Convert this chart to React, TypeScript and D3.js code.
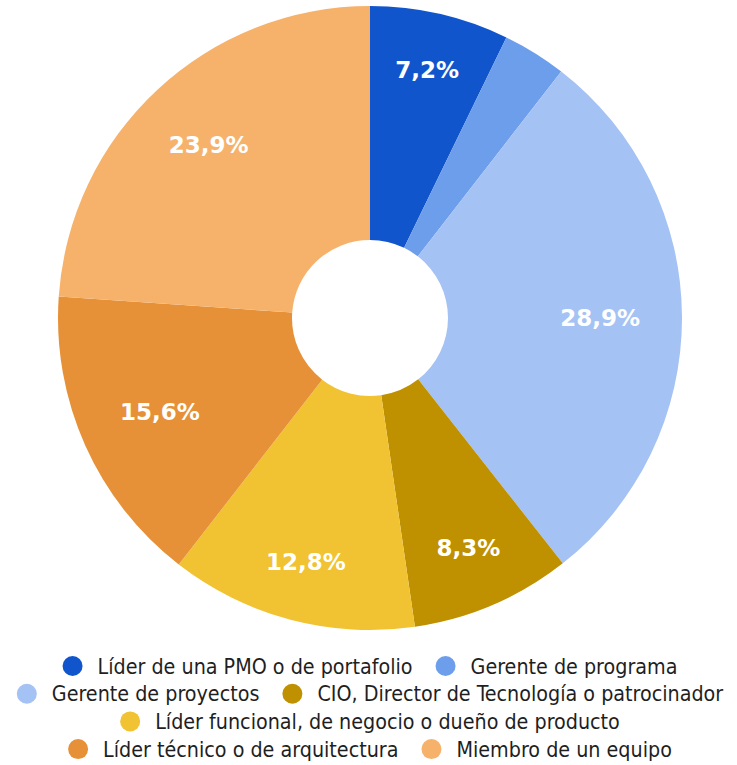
import React from "react";
import * as d3 from "d3";

const categories = [
  "Líder de una PMO o de portafolio",
  "Gerente de programa",
  "Gerente de proyectos",
  "CIO, Director de Tecnología o patrocinador",
  "Líder funcional, de negocio o dueño de producto",
  "Líder técnico o de arquitectura",
  "Miembro de un equipo",
];
const values = [7.2, 3.3, 28.9, 8.3, 12.8, 15.6, 23.9];
const labels = ["7,2%", "", "28,9%", "8,3%", "12,8%", "15,6%", "23,9%"];
const colors = ["#1155cc", "#6d9eeb", "#a4c2f4", "#bf9000", "#f1c232", "#e69138", "#f6b26b"];

const W = 737;
const H = 765;
const cx = 370;
const cy = 318;
const outerR = 312;
const innerR = 78;
const labelOuter = 270;

const labelFontSize = 23;
const labelFont = `bold ${labelFontSize}px "DejaVu Sans", sans-serif`;
const legendFont = '21.3px "DejaVu Sans Condensed", "DejaVu Sans", sans-serif';

function measure(text: string, font: string): number {
  const c = document.createElement("canvas");
  const ctx = c.getContext("2d")!;
  ctx.font = font;
  return ctx.measureText(text).width;
}

export default function App() {
  const pie = d3.pie<number>().sort(null).value((d) => d);
  const arcs = pie(values);
  const arcGen = d3.arc<d3.PieArcDatum<number>>().innerRadius(innerR).outerRadius(outerR);

  // legend layout
  const circleR = 10;
  const textOffset = 25;
  const itemGap = 23;
  const maxW = 720;
  const items = categories.map((c, i) => {
    const tw = measure(c, legendFont);
    return { c, i, tw, w: textOffset + circleR + tw };
  });
  const rows: typeof items[] = [];
  let cur: typeof items = [];
  let curW = 0;
  items.forEach((it) => {
    const add = cur.length ? itemGap + it.w : it.w;
    if (cur.length && curW + add > maxW) {
      rows.push(cur);
      cur = [it];
      curW = it.w;
    } else {
      cur.push(it);
      curW += add;
    }
  });
  if (cur.length) rows.push(cur);
  const rowY0 = 666;
  const rowDy = 27.7;

  const capH = labelFontSize * 0.73;

  return (
    <svg width={W} height={H} style={{ position: "absolute", left: 0, top: 0 }}>
      <rect width={W} height={H} fill="#ffffff" />
      <g transform={`translate(${cx},${cy})`}>
        {arcs.map((a, i) => (
          <path key={i} d={arcGen(a) || ""} fill={colors[i]} />
        ))}
        {arcs.map((a, i) => {
          if (!labels[i]) return null;
          const mid = (a.startAngle + a.endAngle) / 2;
          const tw = measure(labels[i], labelFont);
          const ext = Math.abs(Math.sin(mid)) * (tw / 2) + Math.abs(Math.cos(mid)) * (capH / 2);
          const r = labelOuter - ext;
          const x = Math.sin(mid) * r;
          const y = -Math.cos(mid) * r;
          return (
            <text
              key={i}
              x={x}
              y={y + capH / 2}
              textAnchor="middle"
              fill="#ffffff"
              style={{ font: labelFont }}
            >
              {labels[i]}
            </text>
          );
        })}
      </g>
      <g>
        {rows.map((row, ri) => {
          const total = row.reduce((s, it) => s + it.w, 0) + itemGap * (row.length - 1);
          let x = cx - total / 2;
          const y = rowY0 + ri * rowDy;
          return row.map((it) => {
            const x0 = x;
            x += it.w + itemGap;
            return (
              <g key={it.i}>
                <circle cx={x0 + circleR} cy={y} r={circleR} fill={colors[it.i]} />
                <text
                  x={x0 + textOffset + circleR}
                  y={y}
                  dominantBaseline="central"
                  fill="#1f1f1f"
                  style={{ font: legendFont }}
                >
                  {it.c}
                </text>
              </g>
            );
          });
        })}
      </g>
    </svg>
  );
}
